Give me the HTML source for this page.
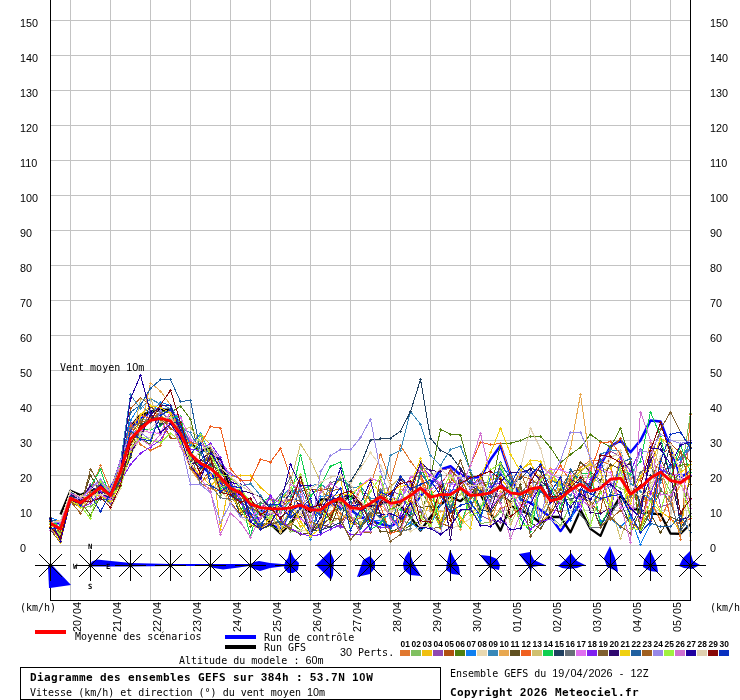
<!DOCTYPE html>
<html><head><meta charset="utf-8"><title>Diagramme des ensembles GEFS</title>
<style>html,body{margin:0;padding:0;background:#fff}svg{display:block}text{font-family:"DejaVu Sans Mono","Liberation Mono",monospace;font-size:10px;fill:#000}.b{font-weight:bold;font-size:11px;letter-spacing:.38px}.t{font-family:"Liberation Sans",sans-serif;font-size:8.4px;font-weight:bold}.c{font-size:7.2px;font-weight:bold}.d{font-family:"Liberation Sans",sans-serif;font-size:10.8px;letter-spacing:0}.bd{font-family:"Liberation Sans",sans-serif;font-size:11px;font-weight:bold;letter-spacing:.88px}</style></head><body>
<svg width="740" height="700" viewBox="0 0 740 700">
<rect width="740" height="700" fill="#fff"/>
<path d="M50 20.5H690M50 55.5H690M50 90.5H690M50 125.5H690M50 160.5H690M50 195.5H690M50 230.5H690M50 265.5H690M50 300.5H690M50 335.5H690M50 370.5H690M50 405.5H690M50 440.5H690M50 475.5H690M50 510.5H690M50 545.5H690M70.5 0V600M110.5 0V600M150.5 0V600M190.5 0V600M230.5 0V600M270.5 0V600M310.5 0V600M350.5 0V600M390.5 0V600M430.5 0V600M470.5 0V600M510.5 0V600M550.5 0V600M590.5 0V600M630.5 0V600M670.5 0V600" stroke="#c3c3c3" stroke-width="1" fill="none" shape-rendering="crispEdges"/>
<defs><marker id="m" markerWidth="3" markerHeight="3" refX="1.5" refY="1.5" markerUnits="userSpaceOnUse"><path d="M1 0h1v1h1v1h-1v1h-1v-1h-1v-1h1z" fill="context-stroke" shape-rendering="crispEdges"/></marker></defs>
<polyline points="50.5,522.9 60.5,523.6 70.5,502.0 80.5,498.8 90.5,496.4 100.5,488.3 110.5,487.7 120.5,470.8 130.5,429.5 140.5,419.0 150.5,412.0 160.5,408.5 170.5,412.0 180.5,429.5 190.5,455.5 200.5,465.3 210.5,473.9 220.5,483.8 230.5,495.1 240.5,493.9 250.5,504.8 260.5,525.0 270.5,524.0 280.5,529.6 290.5,511.1 300.5,504.1 310.5,506.8 320.5,513.2 330.5,504.0 340.5,506.9 350.5,509.7 360.5,517.0 370.5,520.5 380.5,524.0 390.5,526.5 400.5,520.5 410.5,510.0 420.5,496.0 430.5,485.5 440.5,469.4 450.5,466.2 460.5,475.0 470.5,477.8 480.5,477.1 490.5,459.6 500.5,445.6 510.5,475.0 520.5,499.5 530.5,503.0 540.5,510.0 550.5,517.0 560.5,531.0 570.5,517.0 580.5,503.0 590.5,485.5 600.5,465.2 610.5,446.3 620.5,440.4 630.5,452.2 640.5,440.4 650.5,420.4 660.5,421.5 670.5,447.4 680.5,477.1 690.5,471.5" fill="none" stroke="#0000ff" stroke-width="2.5" stroke-linejoin="round"/>
<polyline points="60.5,514.5 70.5,490.8 80.5,495.0 90.5,490.3 100.5,489.8 110.5,494.0 120.5,473.9 130.5,426.7 140.5,414.8 150.5,412.0 160.5,410.2 170.5,409.5 180.5,426.0 190.5,443.5 200.5,451.2 210.5,448.4 220.5,461.7 230.5,488.9 240.5,493.6 250.5,502.1 260.5,508.6 270.5,524.0 280.5,533.5 290.5,524.0 300.5,507.5 310.5,512.0 320.5,499.5 330.5,499.5 340.5,503.6 350.5,495.3 360.5,504.9 370.5,506.4 380.5,502.9 390.5,501.8 400.5,506.0 410.5,517.0 420.5,530.6 430.5,517.0 440.5,504.8 450.5,496.9 460.5,501.2 470.5,492.1 480.5,494.3 490.5,513.5 500.5,530.6 510.5,506.1 520.5,510.0 530.5,515.2 540.5,523.0 550.5,517.0 560.5,517.0 570.5,532.4 580.5,510.0 590.5,528.9 600.5,535.9 610.5,512.5 620.5,496.0 630.5,508.2 640.5,510.0 650.5,513.5 660.5,514.2 670.5,533.5 680.5,533.8 690.5,524.0" fill="none" stroke="#000" stroke-width="2.3" stroke-linejoin="round"/>
<g fill="none" stroke-width="1" shape-rendering="crispEdges">
<polyline points="50.5,524.3 60.5,531.5 70.5,500.3 80.5,504.8 90.5,489.5 100.5,465.9 110.5,490.0 120.5,464.8 130.5,424.8 140.5,444.6 150.5,450.5 160.5,445.6 170.5,414.5 180.5,425.1 190.5,465.9 200.5,484.0 210.5,488.6 220.5,491.5 230.5,489.3 240.5,498.0 250.5,501.4 260.5,515.9 270.5,508.9 280.5,506.6 290.5,517.1 300.5,482.1 310.5,495.3 320.5,488.1 330.5,502.1 340.5,513.9 350.5,520.8 360.5,517.8 370.5,485.5 380.5,454.0 390.5,480.6 400.5,445.6 410.5,461.0 420.5,475.0 430.5,509.6 440.5,497.3 450.5,491.4 460.5,521.3 470.5,510.2 480.5,482.1 490.5,522.9 500.5,508.0 510.5,505.3 520.5,516.5 530.5,487.8 540.5,487.1 550.5,515.2 560.5,494.2 570.5,478.0 580.5,467.4 590.5,460.3 600.5,461.0 610.5,464.9 620.5,508.1 630.5,488.6 640.5,502.1 650.5,500.3 660.5,520.6 670.5,496.0 680.5,539.4 690.5,414.5" stroke="#E07830" marker-start="url(#m)" marker-mid="url(#m)" marker-end="url(#m)"/>
<polyline points="50.5,530.4 60.5,526.9 70.5,496.5 80.5,507.8 90.5,506.5 100.5,498.9 110.5,503.6 120.5,488.0 130.5,443.6 140.5,419.6 150.5,419.6 160.5,418.5 170.5,420.2 180.5,422.0 190.5,443.5 200.5,454.8 210.5,462.7 220.5,495.1 230.5,487.1 240.5,490.4 250.5,502.4 260.5,528.6 270.5,524.7 280.5,519.2 290.5,531.1 300.5,531.1 310.5,515.5 320.5,532.1 330.5,500.2 340.5,497.3 350.5,517.7 360.5,516.3 370.5,504.3 380.5,506.4 390.5,498.7 400.5,520.7 410.5,523.3 420.5,489.7 430.5,507.7 440.5,527.6 450.5,501.9 460.5,479.6 470.5,508.1 480.5,523.6 490.5,521.9 500.5,511.8 510.5,519.4 520.5,486.0 530.5,520.5 540.5,482.3 550.5,515.7 560.5,525.7 570.5,505.1 580.5,477.7 590.5,477.5 600.5,482.6 610.5,482.7 620.5,488.5 630.5,492.8 640.5,504.1 650.5,491.0 660.5,471.7 670.5,492.3 680.5,478.2 690.5,413.0" stroke="#80C060" marker-start="url(#m)" marker-mid="url(#m)" marker-end="url(#m)"/>
<polyline points="50.5,521.1 60.5,528.9 70.5,498.0 80.5,499.4 90.5,494.6 100.5,484.7 110.5,489.0 120.5,485.6 130.5,456.4 140.5,433.7 150.5,418.4 160.5,415.3 170.5,422.8 180.5,428.3 190.5,446.9 200.5,433.7 210.5,444.8 220.5,529.2 230.5,476.8 240.5,475.7 250.5,475.7 260.5,487.2 270.5,496.0 280.5,531.1 290.5,507.9 300.5,526.3 310.5,522.6 320.5,503.5 330.5,489.8 340.5,478.9 350.5,523.8 360.5,523.4 370.5,520.1 380.5,495.9 390.5,491.5 400.5,532.9 410.5,497.6 420.5,523.4 430.5,500.6 440.5,528.3 450.5,512.3 460.5,480.4 470.5,495.2 480.5,493.8 490.5,479.4 500.5,477.9 510.5,490.7 520.5,470.2 530.5,463.6 540.5,479.6 550.5,468.4 560.5,495.0 570.5,475.5 580.5,481.9 590.5,487.2 600.5,470.7 610.5,468.3 620.5,456.5 630.5,521.9 640.5,530.4 650.5,489.1 660.5,511.6 670.5,518.3 680.5,531.0 690.5,469.8" stroke="#F0C010" marker-start="url(#m)" marker-mid="url(#m)" marker-end="url(#m)"/>
<polyline points="50.5,523.3 60.5,527.8 70.5,499.8 80.5,500.3 90.5,484.6 100.5,485.2 110.5,489.1 120.5,460.2 130.5,422.4 140.5,439.3 150.5,407.1 160.5,412.1 170.5,420.5 180.5,427.3 190.5,441.6 200.5,435.4 210.5,465.1 220.5,462.3 230.5,473.9 240.5,479.1 250.5,491.1 260.5,509.2 270.5,498.6 280.5,501.7 290.5,499.3 300.5,476.9 310.5,501.3 320.5,531.6 330.5,522.4 340.5,527.4 350.5,508.3 360.5,504.0 370.5,509.3 380.5,496.8 390.5,492.3 400.5,493.5 410.5,477.3 420.5,476.4 430.5,476.5 440.5,469.7 450.5,468.6 460.5,481.0 470.5,481.8 480.5,515.4 490.5,520.2 500.5,522.0 510.5,488.9 520.5,513.9 530.5,493.8 540.5,487.8 550.5,497.1 560.5,503.7 570.5,484.7 580.5,462.6 590.5,467.6 600.5,460.8 610.5,451.1 620.5,456.8 630.5,510.9 640.5,505.6 650.5,455.3 660.5,506.7 670.5,503.5 680.5,462.1 690.5,448.6" stroke="#9048B0" marker-start="url(#m)" marker-mid="url(#m)" marker-end="url(#m)"/>
<polyline points="50.5,521.9 60.5,536.0 70.5,501.4 80.5,506.7 90.5,492.5 100.5,488.7 110.5,500.2 120.5,481.7 130.5,408.5 140.5,398.0 150.5,405.0 160.5,419.4 170.5,437.9 180.5,439.0 190.5,461.9 200.5,483.8 210.5,468.9 220.5,479.1 230.5,501.9 240.5,514.8 250.5,513.4 260.5,518.0 270.5,505.3 280.5,499.6 290.5,490.9 300.5,491.8 310.5,489.0 320.5,490.3 330.5,488.4 340.5,524.0 350.5,506.3 360.5,490.5 370.5,500.0 380.5,505.1 390.5,484.6 400.5,521.0 410.5,495.6 420.5,462.4 430.5,496.1 440.5,484.9 450.5,470.2 460.5,479.3 470.5,485.9 480.5,477.0 490.5,496.1 500.5,487.4 510.5,487.5 520.5,475.9 530.5,479.2 540.5,485.1 550.5,510.7 560.5,511.2 570.5,479.5 580.5,477.1 590.5,503.5 600.5,512.6 610.5,448.7 620.5,438.9 630.5,459.8 640.5,527.5 650.5,479.7 660.5,459.2 670.5,443.7 680.5,452.9 690.5,461.3" stroke="#B05010" marker-start="url(#m)" marker-mid="url(#m)" marker-end="url(#m)"/>
<polyline points="50.5,521.8 60.5,528.5 70.5,500.5 80.5,501.7 90.5,515.2 100.5,496.4 110.5,503.1 120.5,480.7 130.5,447.0 140.5,439.0 150.5,444.1 160.5,411.3 170.5,412.8 180.5,406.0 190.5,419.0 200.5,460.7 210.5,460.2 220.5,461.6 230.5,479.4 240.5,508.6 250.5,516.3 260.5,529.4 270.5,525.4 280.5,530.9 290.5,521.6 300.5,530.5 310.5,531.1 320.5,522.5 330.5,514.4 340.5,503.3 350.5,516.4 360.5,526.1 370.5,510.3 380.5,513.2 390.5,530.2 400.5,531.6 410.5,525.3 420.5,520.8 430.5,477.1 440.5,429.5 450.5,434.1 460.5,435.1 470.5,472.2 480.5,516.8 490.5,491.7 500.5,443.5 510.5,443.1 520.5,440.7 530.5,436.1 540.5,436.1 550.5,447.4 560.5,462.8 570.5,454.4 580.5,447.4 590.5,434.4 600.5,441.8 610.5,447.0 620.5,428.5 630.5,461.0 640.5,532.1 650.5,511.4 660.5,490.3 670.5,496.6 680.5,465.2 690.5,464.0" stroke="#508010" marker-start="url(#m)" marker-mid="url(#m)" marker-end="url(#m)"/>
<polyline points="50.5,517.9 60.5,521.3 70.5,491.6 80.5,503.1 90.5,495.6 100.5,482.9 110.5,495.1 120.5,463.5 130.5,420.3 140.5,404.8 150.5,413.7 160.5,402.1 170.5,405.5 180.5,423.7 190.5,445.8 200.5,433.7 210.5,453.8 220.5,462.9 230.5,475.8 240.5,488.8 250.5,517.6 260.5,511.9 270.5,507.6 280.5,497.3 290.5,488.3 300.5,497.1 310.5,539.8 320.5,496.4 330.5,495.5 340.5,496.2 350.5,510.9 360.5,502.2 370.5,520.1 380.5,520.1 390.5,514.2 400.5,530.0 410.5,522.5 420.5,529.9 430.5,525.7 440.5,504.1 450.5,490.9 460.5,487.8 470.5,501.7 480.5,520.3 490.5,475.7 500.5,470.1 510.5,472.3 520.5,496.3 530.5,494.1 540.5,524.3 550.5,500.8 560.5,479.1 570.5,520.0 580.5,498.1 590.5,483.2 600.5,521.2 610.5,519.0 620.5,527.2 630.5,517.0 640.5,544.3 650.5,524.0 660.5,475.0 670.5,464.8 680.5,459.2 690.5,443.3" stroke="#1080F0" marker-start="url(#m)" marker-mid="url(#m)" marker-end="url(#m)"/>
<polyline points="50.5,526.0 60.5,540.5 70.5,501.6 80.5,506.8 90.5,501.3 100.5,488.9 110.5,509.3 120.5,488.3 130.5,454.4 140.5,439.1 150.5,437.6 160.5,431.1 170.5,434.8 180.5,436.1 190.5,454.3 200.5,469.1 210.5,483.9 220.5,489.8 230.5,502.9 240.5,516.8 250.5,524.8 260.5,529.2 270.5,522.4 280.5,523.8 290.5,530.5 300.5,530.5 310.5,531.4 320.5,521.0 330.5,506.0 340.5,510.1 350.5,483.8 360.5,468.4 370.5,452.9 380.5,465.6 390.5,485.5 400.5,525.8 410.5,531.2 420.5,526.6 430.5,526.4 440.5,533.2 450.5,528.7 460.5,524.9 470.5,518.3 480.5,504.0 490.5,513.7 500.5,466.0 510.5,492.5 520.5,481.0 530.5,487.4 540.5,474.8 550.5,518.6 560.5,527.2 570.5,515.3 580.5,489.8 590.5,461.6 600.5,470.4 610.5,456.6 620.5,454.5 630.5,470.3 640.5,472.8 650.5,486.7 660.5,471.3 670.5,516.7 680.5,478.6 690.5,518.4" stroke="#E8D8B0" marker-start="url(#m)" marker-mid="url(#m)" marker-end="url(#m)"/>
<polyline points="50.5,521.1 60.5,525.4 70.5,491.7 80.5,498.2 90.5,494.2 100.5,482.9 110.5,490.5 120.5,461.3 130.5,394.9 140.5,408.5 150.5,398.9 160.5,404.1 170.5,408.6 180.5,427.3 190.5,432.8 200.5,452.5 210.5,450.4 220.5,471.5 230.5,488.1 240.5,486.7 250.5,483.7 260.5,495.6 270.5,508.0 280.5,497.4 290.5,496.8 300.5,489.7 310.5,485.9 320.5,483.6 330.5,491.8 340.5,475.4 350.5,487.6 360.5,486.7 370.5,498.2 380.5,499.5 390.5,455.1 400.5,450.5 410.5,411.6 420.5,424.2 430.5,455.8 440.5,465.2 450.5,449.4 460.5,446.3 470.5,470.8 480.5,494.2 490.5,487.3 500.5,499.4 510.5,490.6 520.5,516.1 530.5,493.0 540.5,477.4 550.5,479.9 560.5,485.2 570.5,495.9 580.5,478.1 590.5,489.4 600.5,454.3 610.5,449.9 620.5,450.6 630.5,483.5 640.5,491.3 650.5,499.6 660.5,482.1 670.5,467.0 680.5,457.4 690.5,448.2" stroke="#3888B8" marker-start="url(#m)" marker-mid="url(#m)" marker-end="url(#m)"/>
<polyline points="50.5,520.8 60.5,520.3 70.5,499.8 80.5,506.1 90.5,498.4 100.5,489.0 110.5,495.2 120.5,475.2 130.5,438.5 140.5,429.5 150.5,383.0 160.5,391.0 170.5,405.0 180.5,443.3 190.5,468.9 200.5,483.3 210.5,474.5 220.5,489.9 230.5,488.2 240.5,491.4 250.5,503.5 260.5,506.1 270.5,512.5 280.5,530.8 290.5,524.6 300.5,513.5 310.5,526.6 320.5,523.6 330.5,502.3 340.5,519.9 350.5,512.0 360.5,490.0 370.5,508.7 380.5,504.2 390.5,515.9 400.5,489.3 410.5,492.0 420.5,478.2 430.5,511.4 440.5,511.7 450.5,511.2 460.5,529.2 470.5,495.6 480.5,487.6 490.5,524.6 500.5,491.6 510.5,504.3 520.5,494.0 530.5,486.6 540.5,522.5 550.5,513.6 560.5,478.5 570.5,448.8 580.5,394.5 590.5,465.2 600.5,527.7 610.5,504.0 620.5,453.9 630.5,478.3 640.5,480.2 650.5,442.8 660.5,467.3 670.5,504.2 680.5,484.7 690.5,469.7" stroke="#E8A850" marker-start="url(#m)" marker-mid="url(#m)" marker-end="url(#m)"/>
<polyline points="50.5,527.4 60.5,531.9 70.5,501.4 80.5,506.7 90.5,475.0 100.5,492.5 110.5,498.9 120.5,478.2 130.5,449.9 140.5,423.5 150.5,406.0 160.5,418.7 170.5,416.5 180.5,441.3 190.5,460.0 200.5,460.5 210.5,451.2 220.5,477.6 230.5,491.6 240.5,501.4 250.5,526.0 260.5,524.4 270.5,523.4 280.5,521.9 290.5,529.4 300.5,534.3 310.5,533.3 320.5,524.9 330.5,526.6 340.5,502.6 350.5,521.1 360.5,528.5 370.5,515.3 380.5,531.5 390.5,532.3 400.5,527.0 410.5,501.3 420.5,507.3 430.5,506.7 440.5,523.6 450.5,512.8 460.5,478.9 470.5,511.2 480.5,474.0 490.5,496.9 500.5,495.7 510.5,501.1 520.5,484.6 530.5,522.5 540.5,528.8 550.5,512.8 560.5,498.8 570.5,485.8 580.5,462.0 590.5,472.2 600.5,480.3 610.5,464.7 620.5,468.8 630.5,462.7 640.5,513.2 650.5,513.6 660.5,532.7 670.5,517.0 680.5,521.3 690.5,476.0" stroke="#605020" marker-start="url(#m)" marker-mid="url(#m)" marker-end="url(#m)"/>
<polyline points="50.5,520.7 60.5,530.1 70.5,500.2 80.5,506.3 90.5,494.7 100.5,486.9 110.5,495.4 120.5,472.9 130.5,426.8 140.5,415.3 150.5,418.4 160.5,412.0 170.5,419.7 180.5,443.9 190.5,442.6 200.5,444.6 210.5,426.7 220.5,428.1 230.5,468.7 240.5,480.2 250.5,480.9 260.5,459.2 270.5,462.1 280.5,448.4 290.5,476.8 300.5,499.5 310.5,510.4 320.5,512.4 330.5,513.4 340.5,500.1 350.5,510.2 360.5,504.1 370.5,510.9 380.5,506.2 390.5,533.4 400.5,529.9 410.5,502.9 420.5,474.0 430.5,499.3 440.5,503.9 450.5,477.9 460.5,489.0 470.5,465.2 480.5,442.1 490.5,444.6 500.5,443.5 510.5,475.0 520.5,492.9 530.5,492.5 540.5,487.6 550.5,481.2 560.5,465.2 570.5,482.3 580.5,493.7 590.5,471.5 600.5,442.8 610.5,441.8 620.5,454.0 630.5,497.8 640.5,478.3 650.5,520.8 660.5,471.6 670.5,519.4 680.5,523.9 690.5,518.7" stroke="#F06020" marker-start="url(#m)" marker-mid="url(#m)" marker-end="url(#m)"/>
<polyline points="50.5,522.8 60.5,530.0 70.5,495.7 80.5,496.7 90.5,488.7 100.5,481.6 110.5,489.3 120.5,463.4 130.5,445.7 140.5,399.6 150.5,398.8 160.5,422.0 170.5,420.6 180.5,428.6 190.5,427.8 200.5,441.3 210.5,461.6 220.5,485.7 230.5,488.3 240.5,486.5 250.5,514.4 260.5,523.9 270.5,515.5 280.5,532.0 290.5,482.0 300.5,444.2 310.5,459.6 320.5,482.0 330.5,523.8 340.5,516.0 350.5,515.9 360.5,522.8 370.5,511.3 380.5,490.0 390.5,487.1 400.5,476.6 410.5,493.3 420.5,496.5 430.5,528.1 440.5,485.3 450.5,505.2 460.5,494.1 470.5,491.9 480.5,515.7 490.5,491.0 500.5,484.2 510.5,524.8 520.5,502.6 530.5,469.8 540.5,516.9 550.5,494.0 560.5,488.8 570.5,478.0 580.5,471.8 590.5,462.0 600.5,472.5 610.5,506.5 620.5,538.4 630.5,510.0 640.5,496.0 650.5,482.5 660.5,438.5 670.5,450.9 680.5,469.6 690.5,504.6" stroke="#D0C070" marker-start="url(#m)" marker-mid="url(#m)" marker-end="url(#m)"/>
<polyline points="50.5,521.5 60.5,525.7 70.5,494.8 80.5,501.8 90.5,486.5 100.5,469.8 110.5,497.8 120.5,466.8 130.5,433.4 140.5,429.1 150.5,429.9 160.5,425.8 170.5,417.6 180.5,416.2 190.5,463.9 200.5,463.0 210.5,466.1 220.5,488.5 230.5,485.5 240.5,499.5 250.5,535.5 260.5,503.0 270.5,496.6 280.5,512.7 290.5,499.5 300.5,455.1 310.5,496.0 320.5,485.5 330.5,466.2 340.5,462.1 350.5,499.5 360.5,483.8 370.5,529.4 380.5,523.7 390.5,508.3 400.5,509.1 410.5,517.4 420.5,467.4 430.5,488.9 440.5,526.4 450.5,494.4 460.5,526.0 470.5,494.5 480.5,507.5 490.5,495.0 500.5,469.5 510.5,483.7 520.5,518.8 530.5,531.9 540.5,485.3 550.5,486.0 560.5,508.6 570.5,481.0 580.5,474.1 590.5,472.7 600.5,524.6 610.5,507.3 620.5,470.0 630.5,474.0 640.5,461.0 650.5,412.0 660.5,436.5 670.5,477.8 680.5,444.7 690.5,472.3" stroke="#10D050" marker-start="url(#m)" marker-mid="url(#m)" marker-end="url(#m)"/>
<polyline points="50.5,521.0 60.5,529.9 70.5,494.0 80.5,504.0 90.5,494.8 100.5,491.4 110.5,495.9 120.5,479.3 130.5,457.1 140.5,426.1 150.5,416.5 160.5,424.2 170.5,420.6 180.5,424.7 190.5,460.0 200.5,468.4 210.5,464.2 220.5,470.7 230.5,488.4 240.5,516.1 250.5,504.5 260.5,506.7 270.5,509.8 280.5,517.0 290.5,510.1 300.5,517.7 310.5,530.9 320.5,530.1 330.5,527.0 340.5,522.6 350.5,481.6 360.5,465.6 370.5,440.0 380.5,438.9 390.5,438.2 400.5,431.2 410.5,411.6 420.5,379.5 430.5,438.2 440.5,450.1 450.5,455.1 460.5,468.4 470.5,482.0 480.5,509.8 490.5,511.9 500.5,494.9 510.5,485.3 520.5,478.2 530.5,468.4 540.5,471.1 550.5,498.5 560.5,498.9 570.5,499.1 580.5,496.3 590.5,502.8 600.5,525.6 610.5,509.4 620.5,501.1 630.5,525.5 640.5,508.5 650.5,475.4 660.5,479.1 670.5,444.5 680.5,528.0 690.5,513.5" stroke="#204060" marker-start="url(#m)" marker-mid="url(#m)" marker-end="url(#m)"/>
<polyline points="50.5,517.6 60.5,539.6 70.5,498.8 80.5,501.0 90.5,494.6 100.5,482.8 110.5,503.3 120.5,470.0 130.5,428.9 140.5,420.9 150.5,422.6 160.5,411.9 170.5,420.4 180.5,430.1 190.5,455.0 200.5,483.8 210.5,485.5 220.5,497.8 230.5,499.5 240.5,501.5 250.5,508.1 260.5,502.7 270.5,505.5 280.5,494.6 290.5,477.7 300.5,500.9 310.5,532.6 320.5,509.0 330.5,482.6 340.5,479.8 350.5,487.6 360.5,508.0 370.5,516.1 380.5,489.2 390.5,515.5 400.5,531.8 410.5,528.8 420.5,466.6 430.5,470.6 440.5,487.9 450.5,506.5 460.5,487.7 470.5,510.8 480.5,480.8 490.5,483.9 500.5,502.6 510.5,476.9 520.5,493.2 530.5,482.3 540.5,482.8 550.5,501.4 560.5,489.6 570.5,499.3 580.5,514.8 590.5,527.0 600.5,527.7 610.5,514.5 620.5,500.6 630.5,496.9 640.5,472.1 650.5,465.8 660.5,488.6 670.5,503.0 680.5,532.0 690.5,513.3" stroke="#687078" marker-start="url(#m)" marker-mid="url(#m)" marker-end="url(#m)"/>
<polyline points="50.5,522.5 60.5,528.7 70.5,494.0 80.5,501.0 90.5,488.7 100.5,480.8 110.5,492.5 120.5,461.3 130.5,434.9 140.5,429.7 150.5,432.8 160.5,433.2 170.5,411.1 180.5,417.1 190.5,439.7 200.5,444.7 210.5,447.4 220.5,461.4 230.5,474.7 240.5,501.3 250.5,517.7 260.5,508.2 270.5,496.6 280.5,502.9 290.5,517.8 300.5,518.5 310.5,526.5 320.5,528.7 330.5,492.2 340.5,505.4 350.5,511.2 360.5,485.2 370.5,478.3 380.5,481.7 390.5,506.6 400.5,499.0 410.5,477.8 420.5,470.3 430.5,474.5 440.5,483.7 450.5,483.8 460.5,487.4 470.5,492.2 480.5,476.0 490.5,509.2 500.5,494.3 510.5,491.1 520.5,505.6 530.5,503.4 540.5,477.8 550.5,469.8 560.5,469.9 570.5,473.7 580.5,505.0 590.5,464.7 600.5,470.6 610.5,472.4 620.5,507.8 630.5,505.9 640.5,520.9 650.5,494.4 660.5,465.4 670.5,475.9 680.5,473.3 690.5,499.5" stroke="#E070F0" marker-start="url(#m)" marker-mid="url(#m)" marker-end="url(#m)"/>
<polyline points="50.5,530.4 60.5,537.1 70.5,500.9 80.5,507.5 90.5,503.4 100.5,491.2 110.5,502.9 120.5,481.7 130.5,464.5 140.5,453.3 150.5,447.0 160.5,440.0 170.5,423.7 180.5,436.9 190.5,449.4 200.5,450.5 210.5,443.5 220.5,457.9 230.5,482.0 240.5,501.6 250.5,520.1 260.5,517.5 270.5,495.3 280.5,519.7 290.5,528.5 300.5,533.6 310.5,536.2 320.5,534.5 330.5,529.1 340.5,525.0 350.5,534.2 360.5,534.3 370.5,523.9 380.5,527.1 390.5,527.3 400.5,515.0 410.5,487.5 420.5,464.5 430.5,476.2 440.5,488.2 450.5,493.9 460.5,473.1 470.5,478.5 480.5,493.2 490.5,486.9 500.5,482.6 510.5,494.1 520.5,511.4 530.5,529.4 540.5,521.8 550.5,518.8 560.5,500.6 570.5,486.1 580.5,509.4 590.5,479.2 600.5,467.6 610.5,514.3 620.5,457.2 630.5,471.3 640.5,449.3 650.5,493.2 660.5,469.5 670.5,474.5 680.5,480.5 690.5,475.6" stroke="#8020F0" marker-start="url(#m)" marker-mid="url(#m)" marker-end="url(#m)"/>
<polyline points="50.5,530.2 60.5,542.5 70.5,501.5 80.5,507.6 90.5,469.1 100.5,485.5 110.5,498.5 120.5,483.7 130.5,453.8 140.5,428.6 150.5,416.1 160.5,418.5 170.5,428.4 180.5,425.4 190.5,459.8 200.5,462.6 210.5,457.4 220.5,480.2 230.5,485.6 240.5,512.7 250.5,507.3 260.5,513.4 270.5,524.8 280.5,522.1 290.5,528.6 300.5,505.7 310.5,528.1 320.5,526.9 330.5,517.4 340.5,519.6 350.5,539.4 360.5,528.6 370.5,513.0 380.5,513.4 390.5,541.1 400.5,534.5 410.5,516.9 420.5,511.8 430.5,528.2 440.5,527.8 450.5,482.0 460.5,460.3 470.5,489.0 480.5,490.6 490.5,500.5 500.5,464.1 510.5,488.6 520.5,487.0 530.5,536.2 540.5,523.7 550.5,502.1 560.5,489.2 570.5,471.5 580.5,470.1 590.5,502.8 600.5,527.1 610.5,517.2 620.5,526.3 630.5,533.2 640.5,510.3 650.5,457.5 660.5,429.5 670.5,412.0 680.5,432.0 690.5,447.0" stroke="#806030" marker-start="url(#m)" marker-mid="url(#m)" marker-end="url(#m)"/>
<polyline points="50.5,523.2 60.5,539.2 70.5,494.1 80.5,500.2 90.5,486.1 100.5,493.4 110.5,498.2 120.5,471.4 130.5,453.1 140.5,437.2 150.5,415.0 160.5,406.0 170.5,405.7 180.5,430.2 190.5,464.7 200.5,460.2 210.5,452.4 220.5,467.8 230.5,494.5 240.5,490.8 250.5,492.7 260.5,497.1 270.5,508.7 280.5,506.4 290.5,492.8 300.5,507.2 310.5,533.3 320.5,517.7 330.5,499.6 340.5,497.3 350.5,494.7 360.5,511.0 370.5,505.8 380.5,504.9 390.5,499.0 400.5,479.3 410.5,489.5 420.5,462.7 430.5,470.8 440.5,471.3 450.5,539.4 460.5,469.0 470.5,485.7 480.5,491.0 490.5,509.6 500.5,481.9 510.5,472.6 520.5,472.2 530.5,469.4 540.5,480.1 550.5,491.0 560.5,517.9 570.5,479.4 580.5,483.7 590.5,512.3 600.5,513.9 610.5,507.1 620.5,466.8 630.5,464.2 640.5,505.7 650.5,460.4 660.5,443.3 670.5,476.8 680.5,520.0 690.5,516.0" stroke="#300870" marker-start="url(#m)" marker-mid="url(#m)" marker-end="url(#m)"/>
<polyline points="50.5,526.7 60.5,542.4 70.5,499.8 80.5,507.5 90.5,494.6 100.5,496.0 110.5,501.5 120.5,484.1 130.5,451.6 140.5,414.8 150.5,405.9 160.5,407.7 170.5,413.1 180.5,443.7 190.5,464.0 200.5,475.6 210.5,485.5 220.5,477.5 230.5,494.6 240.5,510.2 250.5,524.2 260.5,529.3 270.5,517.6 280.5,500.6 290.5,502.0 300.5,521.2 310.5,536.1 320.5,528.5 330.5,496.9 340.5,494.5 350.5,494.5 360.5,486.4 370.5,479.5 380.5,494.2 390.5,491.1 400.5,486.2 410.5,485.5 420.5,458.9 430.5,485.5 440.5,520.8 450.5,495.6 460.5,517.6 470.5,528.9 480.5,478.5 490.5,452.9 500.5,428.1 510.5,454.0 520.5,471.5 530.5,460.5 540.5,461.2 550.5,479.2 560.5,482.5 570.5,487.1 580.5,469.8 590.5,464.6 600.5,471.1 610.5,504.3 620.5,471.4 630.5,503.5 640.5,476.3 650.5,467.5 660.5,438.1 670.5,444.2 680.5,472.8 690.5,464.3" stroke="#F0D010" marker-start="url(#m)" marker-mid="url(#m)" marker-end="url(#m)"/>
<polyline points="50.5,519.7 60.5,522.2 70.5,491.9 80.5,498.6 90.5,501.4 100.5,499.4 110.5,499.5 120.5,471.8 130.5,412.1 140.5,405.0 150.5,388.5 160.5,379.5 170.5,379.5 180.5,401.5 190.5,400.5 200.5,452.2 210.5,478.5 220.5,477.2 230.5,496.5 240.5,499.1 250.5,519.4 260.5,524.0 270.5,512.8 280.5,524.2 290.5,515.4 300.5,486.7 310.5,508.1 320.5,515.5 330.5,499.7 340.5,509.4 350.5,501.2 360.5,528.0 370.5,509.3 380.5,517.8 390.5,528.4 400.5,491.3 410.5,514.3 420.5,472.9 430.5,485.7 440.5,474.7 450.5,509.8 460.5,482.0 470.5,480.9 480.5,492.4 490.5,496.0 500.5,462.7 510.5,478.8 520.5,498.5 530.5,514.2 540.5,491.4 550.5,499.7 560.5,498.1 570.5,469.8 580.5,481.9 590.5,484.1 600.5,459.7 610.5,494.0 620.5,463.3 630.5,458.6 640.5,508.1 650.5,523.1 660.5,526.8 670.5,526.9 680.5,515.1 690.5,532.6" stroke="#2060A0" marker-start="url(#m)" marker-mid="url(#m)" marker-end="url(#m)"/>
<polyline points="50.5,528.0 60.5,532.3 70.5,501.4 80.5,513.1 90.5,497.5 100.5,488.0 110.5,494.7 120.5,465.3 130.5,433.9 140.5,421.6 150.5,420.4 160.5,415.3 170.5,428.5 180.5,433.4 190.5,468.7 200.5,475.6 210.5,447.5 220.5,465.4 230.5,492.2 240.5,492.7 250.5,516.1 260.5,527.2 270.5,522.1 280.5,507.5 290.5,499.1 300.5,501.2 310.5,521.2 320.5,527.3 330.5,490.5 340.5,489.4 350.5,515.9 360.5,532.9 370.5,532.7 380.5,477.2 390.5,509.6 400.5,503.5 410.5,493.1 420.5,487.2 430.5,499.6 440.5,523.6 450.5,526.4 460.5,476.4 470.5,498.3 480.5,482.3 490.5,514.9 500.5,497.7 510.5,488.7 520.5,472.0 530.5,496.6 540.5,476.1 550.5,482.8 560.5,499.9 570.5,479.7 580.5,492.2 590.5,507.7 600.5,491.1 610.5,519.2 620.5,510.2 630.5,523.4 640.5,528.2 650.5,510.6 660.5,459.2 670.5,478.8 680.5,451.6 690.5,484.6" stroke="#A06020" marker-start="url(#m)" marker-mid="url(#m)" marker-end="url(#m)"/>
<polyline points="50.5,522.4 60.5,522.7 70.5,497.8 80.5,498.7 90.5,488.6 100.5,479.5 110.5,491.8 120.5,460.7 130.5,431.2 140.5,432.6 150.5,439.9 160.5,410.8 170.5,420.7 180.5,441.0 190.5,484.4 200.5,484.8 210.5,492.5 220.5,522.2 230.5,503.0 240.5,516.6 250.5,519.9 260.5,512.5 270.5,513.8 280.5,508.7 290.5,502.3 300.5,494.1 310.5,532.5 320.5,471.9 330.5,455.8 340.5,449.4 350.5,449.8 360.5,437.9 370.5,419.0 380.5,471.9 390.5,496.0 400.5,500.7 410.5,482.4 420.5,509.3 430.5,526.2 440.5,534.5 450.5,484.2 460.5,477.9 470.5,488.4 480.5,481.7 490.5,503.8 500.5,471.6 510.5,490.3 520.5,472.9 530.5,472.7 540.5,517.7 550.5,478.5 560.5,460.3 570.5,432.0 580.5,432.0 590.5,458.2 600.5,486.9 610.5,486.2 620.5,472.3 630.5,481.8 640.5,450.9 650.5,452.6 660.5,434.0 670.5,440.2 680.5,443.6 690.5,440.6" stroke="#9888E8" marker-start="url(#m)" marker-mid="url(#m)" marker-end="url(#m)"/>
<polyline points="50.5,523.4 60.5,535.4 70.5,499.0 80.5,505.6 90.5,518.8 100.5,481.1 110.5,495.4 120.5,486.9 130.5,449.7 140.5,436.5 150.5,440.0 160.5,442.8 170.5,433.0 180.5,441.4 190.5,458.5 200.5,434.9 210.5,454.5 220.5,474.4 230.5,476.5 240.5,489.1 250.5,501.8 260.5,513.5 270.5,518.5 280.5,499.7 290.5,488.1 300.5,474.7 310.5,504.9 320.5,509.1 330.5,521.1 340.5,495.0 350.5,528.0 360.5,512.6 370.5,491.4 380.5,476.9 390.5,510.8 400.5,491.5 410.5,508.3 420.5,516.8 430.5,526.0 440.5,493.9 450.5,474.6 460.5,489.6 470.5,515.2 480.5,512.2 490.5,469.9 500.5,463.8 510.5,488.9 520.5,525.6 530.5,525.1 540.5,480.0 550.5,471.0 560.5,486.3 570.5,502.0 580.5,500.8 590.5,525.5 600.5,492.7 610.5,507.8 620.5,466.5 630.5,528.1 640.5,530.3 650.5,501.3 660.5,511.6 670.5,475.1 680.5,481.3 690.5,516.0" stroke="#A0F040" marker-start="url(#m)" marker-mid="url(#m)" marker-end="url(#m)"/>
<polyline points="50.5,530.1 60.5,522.7 70.5,493.2 80.5,497.8 90.5,502.0 100.5,495.6 110.5,499.2 120.5,465.4 130.5,449.5 140.5,438.9 150.5,445.7 160.5,434.3 170.5,420.7 180.5,446.5 190.5,465.4 200.5,478.5 210.5,491.8 220.5,534.5 230.5,513.1 240.5,522.2 250.5,537.3 260.5,517.0 270.5,513.6 280.5,513.1 290.5,484.4 300.5,488.4 310.5,520.7 320.5,492.1 330.5,483.4 340.5,489.5 350.5,514.3 360.5,532.4 370.5,531.4 380.5,496.5 390.5,518.9 400.5,529.4 410.5,509.3 420.5,488.3 430.5,489.7 440.5,482.3 450.5,472.3 460.5,488.6 470.5,465.6 480.5,433.4 490.5,475.0 500.5,503.0 510.5,538.4 520.5,513.5 530.5,476.8 540.5,466.5 550.5,473.6 560.5,479.0 570.5,490.3 580.5,498.6 590.5,507.6 600.5,499.6 610.5,482.1 620.5,503.0 630.5,542.9 640.5,412.0 650.5,440.0 660.5,494.7 670.5,495.1 680.5,480.9 690.5,508.0" stroke="#D070D0" marker-start="url(#m)" marker-mid="url(#m)" marker-end="url(#m)"/>
<polyline points="50.5,518.3 60.5,541.1 70.5,500.2 80.5,503.9 90.5,495.6 100.5,485.1 110.5,494.6 120.5,470.6 130.5,398.7 140.5,375.2 150.5,412.0 160.5,432.5 170.5,423.7 180.5,438.2 190.5,465.9 200.5,478.8 210.5,453.5 220.5,459.7 230.5,482.5 240.5,484.2 250.5,521.7 260.5,529.3 270.5,524.4 280.5,503.0 290.5,464.5 300.5,485.5 310.5,485.5 320.5,509.2 330.5,496.0 340.5,468.4 350.5,506.5 360.5,503.8 370.5,480.8 380.5,515.1 390.5,513.7 400.5,518.1 410.5,503.3 420.5,527.0 430.5,528.5 440.5,534.5 450.5,527.1 460.5,510.0 470.5,508.9 480.5,525.4 490.5,526.2 500.5,518.9 510.5,529.4 520.5,528.7 530.5,503.5 540.5,485.4 550.5,502.9 560.5,493.7 570.5,507.3 580.5,494.0 590.5,499.6 600.5,484.1 610.5,484.1 620.5,492.8 630.5,508.3 640.5,517.5 650.5,447.8 660.5,449.3 670.5,464.0 680.5,445.3 690.5,442.0" stroke="#2000A0" marker-start="url(#m)" marker-mid="url(#m)" marker-end="url(#m)"/>
<polyline points="50.5,522.5 60.5,520.9 70.5,491.1 80.5,496.8 90.5,496.2 100.5,494.1 110.5,495.5 120.5,467.5 130.5,446.4 140.5,433.9 150.5,428.6 160.5,418.3 170.5,417.4 180.5,433.3 190.5,465.2 200.5,449.5 210.5,445.7 220.5,467.4 230.5,476.5 240.5,485.6 250.5,491.5 260.5,498.1 270.5,512.9 280.5,506.0 290.5,489.9 300.5,513.2 310.5,488.6 320.5,482.6 330.5,477.1 340.5,475.1 350.5,483.8 360.5,501.1 370.5,510.7 380.5,519.0 390.5,511.1 400.5,506.8 410.5,490.3 420.5,525.7 430.5,477.5 440.5,468.5 450.5,477.9 460.5,475.8 470.5,485.4 480.5,485.9 490.5,489.1 500.5,485.3 510.5,510.3 520.5,468.0 530.5,428.5 540.5,448.4 550.5,485.5 560.5,501.6 570.5,489.4 580.5,474.5 590.5,506.8 600.5,484.3 610.5,458.5 620.5,450.6 630.5,488.5 640.5,497.2 650.5,489.0 660.5,456.7 670.5,444.5 680.5,475.0 690.5,540.5" stroke="#E0D0B0" marker-start="url(#m)" marker-mid="url(#m)" marker-end="url(#m)"/>
<polyline points="50.5,527.2 60.5,537.4 70.5,499.4 80.5,501.5 90.5,501.7 100.5,497.9 110.5,507.2 120.5,485.5 130.5,444.3 140.5,426.5 150.5,420.3 160.5,405.0 170.5,390.3 180.5,422.5 190.5,452.9 200.5,473.6 210.5,458.4 220.5,492.5 230.5,494.9 240.5,502.3 250.5,498.2 260.5,514.8 270.5,507.6 280.5,518.9 290.5,504.1 300.5,477.7 310.5,507.8 320.5,504.9 330.5,519.3 340.5,494.1 350.5,491.0 360.5,503.5 370.5,523.1 380.5,502.1 390.5,493.0 400.5,483.5 410.5,481.2 420.5,520.8 430.5,522.0 440.5,486.7 450.5,520.2 460.5,483.5 470.5,477.6 480.5,475.0 490.5,471.1 500.5,479.2 510.5,516.6 520.5,508.6 530.5,482.0 540.5,465.6 550.5,496.0 560.5,497.4 570.5,487.4 580.5,477.6 590.5,487.8 600.5,455.0 610.5,456.9 620.5,462.8 630.5,493.1 640.5,485.5 650.5,450.5 660.5,422.9 670.5,454.0 680.5,513.3 690.5,498.7" stroke="#880808" marker-start="url(#m)" marker-mid="url(#m)" marker-end="url(#m)"/>
<polyline points="50.5,528.8 60.5,527.9 70.5,496.4 80.5,505.4 90.5,495.6 100.5,511.4 110.5,492.8 120.5,471.0 130.5,431.0 140.5,439.4 150.5,440.5 160.5,415.5 170.5,409.4 180.5,426.0 190.5,453.9 200.5,443.4 210.5,485.1 220.5,491.4 230.5,485.8 240.5,487.8 250.5,513.9 260.5,528.0 270.5,504.2 280.5,505.1 290.5,517.8 300.5,508.8 310.5,498.6 320.5,532.8 330.5,500.7 340.5,488.2 350.5,530.1 360.5,508.4 370.5,529.8 380.5,492.1 390.5,496.5 400.5,476.0 410.5,489.3 420.5,484.5 430.5,480.0 440.5,495.5 450.5,511.8 460.5,505.3 470.5,502.6 480.5,515.8 490.5,490.0 500.5,474.4 510.5,484.2 520.5,466.8 530.5,475.2 540.5,464.5 550.5,492.6 560.5,477.2 570.5,518.3 580.5,489.1 590.5,493.9 600.5,498.8 610.5,495.9 620.5,494.5 630.5,514.5 640.5,532.5 650.5,521.8 660.5,461.0 670.5,434.4 680.5,432.0 690.5,448.8" stroke="#0830C0" marker-start="url(#m)" marker-mid="url(#m)" marker-end="url(#m)"/>
</g>
<polyline points="50.5,523.3 60.5,528.9 70.5,498.1 80.5,503.0 90.5,495.3 100.5,487.2 110.5,495.6 120.5,471.5 130.5,438.9 140.5,428.8 150.5,420.4 160.5,418.3 170.5,420.8 180.5,433.7 190.5,454.0 200.5,463.4 210.5,468.4 220.5,477.4 230.5,488.3 240.5,492.9 250.5,504.1 260.5,507.6 270.5,508.6 280.5,508.9 290.5,507.9 300.5,505.1 310.5,510.0 320.5,509.6 330.5,502.3 340.5,498.4 350.5,507.6 360.5,508.9 370.5,503.4 380.5,496.7 390.5,503.4 400.5,501.6 410.5,495.6 420.5,487.9 430.5,497.4 440.5,494.6 450.5,494.6 460.5,487.9 470.5,495.6 480.5,494.6 490.5,492.9 500.5,486.2 510.5,492.9 520.5,494.2 530.5,489.0 540.5,487.2 550.5,500.9 560.5,498.4 570.5,490.1 580.5,484.1 590.5,491.1 600.5,488.3 610.5,479.2 620.5,478.1 630.5,493.9 640.5,487.6 650.5,478.1 660.5,472.2 670.5,480.6 680.5,482.7 690.5,475.7" fill="none" stroke="#ff0000" stroke-width="2.9" stroke-linejoin="round"/>
<path d="M50.5 0V600.5H690.5V0" stroke="#000" stroke-width="1" fill="none" shape-rendering="crispEdges"/>
<text class="d" x="20" y="27">150</text><text class="d" x="710" y="27">150</text>
<text class="d" x="20" y="62">140</text><text class="d" x="710" y="62">140</text>
<text class="d" x="20" y="97">130</text><text class="d" x="710" y="97">130</text>
<text class="d" x="20" y="132">120</text><text class="d" x="710" y="132">120</text>
<text class="d" x="20" y="167">110</text><text class="d" x="710" y="167">110</text>
<text class="d" x="20" y="202">100</text><text class="d" x="710" y="202">100</text>
<text class="d" x="20" y="237">90</text><text class="d" x="710" y="237">90</text>
<text class="d" x="20" y="272">80</text><text class="d" x="710" y="272">80</text>
<text class="d" x="20" y="307">70</text><text class="d" x="710" y="307">70</text>
<text class="d" x="20" y="342">60</text><text class="d" x="710" y="342">60</text>
<text class="d" x="20" y="377">50</text><text class="d" x="710" y="377">50</text>
<text class="d" x="20" y="412">40</text><text class="d" x="710" y="412">40</text>
<text class="d" x="20" y="447">30</text><text class="d" x="710" y="447">30</text>
<text class="d" x="20" y="482">20</text><text class="d" x="710" y="482">20</text>
<text class="d" x="20" y="517">10</text><text class="d" x="710" y="517">10</text>
<text class="d" x="20" y="552">0</text><text class="d" x="710" y="552">0</text>
<text x="20" y="611">(km/h)</text><text x="710" y="611">(km/h)</text>
<text x="60" y="371">Vent moyen <tspan class="d">10</tspan>m</text>
<text transform="translate(81 632) rotate(-90)"><tspan class="d">20</tspan>/<tspan class="d">04</tspan></text>
<text transform="translate(121 632) rotate(-90)"><tspan class="d">21</tspan>/<tspan class="d">04</tspan></text>
<text transform="translate(161 632) rotate(-90)"><tspan class="d">22</tspan>/<tspan class="d">04</tspan></text>
<text transform="translate(201 632) rotate(-90)"><tspan class="d">23</tspan>/<tspan class="d">04</tspan></text>
<text transform="translate(241 632) rotate(-90)"><tspan class="d">24</tspan>/<tspan class="d">04</tspan></text>
<text transform="translate(281 632) rotate(-90)"><tspan class="d">25</tspan>/<tspan class="d">04</tspan></text>
<text transform="translate(321 632) rotate(-90)"><tspan class="d">26</tspan>/<tspan class="d">04</tspan></text>
<text transform="translate(361 632) rotate(-90)"><tspan class="d">27</tspan>/<tspan class="d">04</tspan></text>
<text transform="translate(401 632) rotate(-90)"><tspan class="d">28</tspan>/<tspan class="d">04</tspan></text>
<text transform="translate(441 632) rotate(-90)"><tspan class="d">29</tspan>/<tspan class="d">04</tspan></text>
<text transform="translate(481 632) rotate(-90)"><tspan class="d">30</tspan>/<tspan class="d">04</tspan></text>
<text transform="translate(521 632) rotate(-90)"><tspan class="d">01</tspan>/<tspan class="d">05</tspan></text>
<text transform="translate(561 632) rotate(-90)"><tspan class="d">02</tspan>/<tspan class="d">05</tspan></text>
<text transform="translate(601 632) rotate(-90)"><tspan class="d">03</tspan>/<tspan class="d">05</tspan></text>
<text transform="translate(641 632) rotate(-90)"><tspan class="d">04</tspan>/<tspan class="d">05</tspan></text>
<text transform="translate(681 632) rotate(-90)"><tspan class="d">05</tspan>/<tspan class="d">05</tspan></text>
<g fill="#0000ff"><polygon points="48,566 52,565 71,585 50,588 49,588"/><polygon points="89,566.5 92,561.5 97,559.5 106,560.5 131,563 131,566.5"/><polygon points="129,563 171,564 171,566 129,566.5"/><polygon points="169,564 211,564 211,566 169,566"/><polygon points="209,564 249,564 249,566 235,568 223,569.5 214,568 209,566"/><polygon points="249,565 254,562 259,561 270,563 282,564 290,564 290,566 282,566.5 270,568 260,571 254,569 249,566"/><polygon points="290,550 294,558 299,563 298,570 293,573 288,573 284,568 285,562 288,558"/><polygon points="316,565 330,551 334,560 333,575 331,580"/><polygon points="357,577 363,560 370,556 375,562 375,568 370,574"/><polygon points="409,551 413,562 421,576 410,575 404,570 403,564 405,557"/><polygon points="450,550 455,560 459,567 460,575 452,574 446,570 447,562"/><polygon points="480,555 490,556 497,559 500,565 499,570 490,568 487,564"/><polygon points="519,554 530,552 534,560 545,565 532,567 531,572 528,566"/><polygon points="558,566 565,560 571,553 577,561 585,565 577,568 569,569 562,568"/><polygon points="610,546 615,558 617,566 618,572 612,569 607,567 604,558"/><polygon points="650,550 654,558 657,566 658,572 650,571 643,567 644,560"/><polygon points="690,551 693,561 700,565 692,569 684,568 679,566 683,558"/></g>
<path d="M35 565.5H66M50.5 550V581M39 554L62 577M39 577L62 554M75 565.5H106M90.5 550V581M79 554L102 577M79 577L102 554M115 565.5H146M130.5 550V581M119 554L142 577M119 577L142 554M155 565.5H186M170.5 550V581M159 554L182 577M159 577L182 554M195 565.5H226M210.5 550V581M199 554L222 577M199 577L222 554M235 565.5H266M250.5 550V581M239 554L262 577M239 577L262 554M275 565.5H306M290.5 550V581M279 554L302 577M279 577L302 554M315 565.5H346M330.5 550V581M319 554L342 577M319 577L342 554M355 565.5H386M370.5 550V581M359 554L382 577M359 577L382 554M395 565.5H426M410.5 550V581M399 554L422 577M399 577L422 554M435 565.5H466M450.5 550V581M439 554L462 577M439 577L462 554M475 565.5H506M490.5 550V581M479 554L502 577M479 577L502 554M515 565.5H546M530.5 550V581M519 554L542 577M519 577L542 554M555 565.5H586M570.5 550V581M559 554L582 577M559 577L582 554M595 565.5H626M610.5 550V581M599 554L622 577M599 577L622 554M635 565.5H666M650.5 550V581M639 554L662 577M639 577L662 554M675 565.5H706M690.5 550V581M679 554L702 577M679 577L702 554" stroke="#000" stroke-width="1" fill="none"/>
<g fill="#000"><circle cx="50.5" cy="565.5" r="2"/><circle cx="90.5" cy="565.5" r="2"/><circle cx="130.5" cy="565.5" r="2"/><circle cx="170.5" cy="565.5" r="2"/><circle cx="210.5" cy="565.5" r="2"/><circle cx="250.5" cy="565.5" r="2"/><circle cx="290.5" cy="565.5" r="2"/><circle cx="330.5" cy="565.5" r="2"/><circle cx="370.5" cy="565.5" r="2"/><circle cx="410.5" cy="565.5" r="2"/><circle cx="450.5" cy="565.5" r="2"/><circle cx="490.5" cy="565.5" r="2"/><circle cx="530.5" cy="565.5" r="2"/><circle cx="570.5" cy="565.5" r="2"/><circle cx="610.5" cy="565.5" r="2"/><circle cx="650.5" cy="565.5" r="2"/><circle cx="690.5" cy="565.5" r="2"/></g>
<text class="c" x="88" y="549">N</text><text class="c" x="88" y="589">S</text><text class="c" x="73" y="569">W</text><text class="c" x="106" y="569">E</text>
<rect x="35" y="630" width="31" height="4" fill="#ff0000"/>
<text x="75" y="640">Moyenne des scénarios</text>
<rect x="225" y="635" width="31" height="4" fill="#0000ff"/><rect x="225" y="645" width="31" height="4" fill="#000"/>
<text x="264" y="641">Run de contrôle</text><text x="264" y="651">Run GFS</text>
<text x="179" y="664">Altitude du modele : <tspan class="d">60</tspan>m</text>
<text x="340" y="656"><tspan class="d">30</tspan> Perts.</text>
<rect x="400" y="650" width="10" height="6" fill="#E07830"/><text class="t" x="400.5" y="647">01</text>
<rect x="411" y="650" width="10" height="6" fill="#80C060"/><text class="t" x="411.5" y="647">02</text>
<rect x="422" y="650" width="10" height="6" fill="#F0C010"/><text class="t" x="422.5" y="647">03</text>
<rect x="433" y="650" width="10" height="6" fill="#9048B0"/><text class="t" x="433.5" y="647">04</text>
<rect x="444" y="650" width="10" height="6" fill="#B05010"/><text class="t" x="444.5" y="647">05</text>
<rect x="455" y="650" width="10" height="6" fill="#508010"/><text class="t" x="455.5" y="647">06</text>
<rect x="466" y="650" width="10" height="6" fill="#1080F0"/><text class="t" x="466.5" y="647">07</text>
<rect x="477" y="650" width="10" height="6" fill="#E8D8B0"/><text class="t" x="477.5" y="647">08</text>
<rect x="488" y="650" width="10" height="6" fill="#3888B8"/><text class="t" x="488.5" y="647">09</text>
<rect x="499" y="650" width="10" height="6" fill="#E8A850"/><text class="t" x="499.5" y="647">10</text>
<rect x="510" y="650" width="10" height="6" fill="#605020"/><text class="t" x="510.5" y="647">11</text>
<rect x="521" y="650" width="10" height="6" fill="#F06020"/><text class="t" x="521.5" y="647">12</text>
<rect x="532" y="650" width="10" height="6" fill="#D0C070"/><text class="t" x="532.5" y="647">13</text>
<rect x="543" y="650" width="10" height="6" fill="#10D050"/><text class="t" x="543.5" y="647">14</text>
<rect x="554" y="650" width="10" height="6" fill="#204060"/><text class="t" x="554.5" y="647">15</text>
<rect x="565" y="650" width="10" height="6" fill="#687078"/><text class="t" x="565.5" y="647">16</text>
<rect x="576" y="650" width="10" height="6" fill="#E070F0"/><text class="t" x="576.5" y="647">17</text>
<rect x="587" y="650" width="10" height="6" fill="#8020F0"/><text class="t" x="587.5" y="647">18</text>
<rect x="598" y="650" width="10" height="6" fill="#806030"/><text class="t" x="598.5" y="647">19</text>
<rect x="609" y="650" width="10" height="6" fill="#300870"/><text class="t" x="609.5" y="647">20</text>
<rect x="620" y="650" width="10" height="6" fill="#F0D010"/><text class="t" x="620.5" y="647">21</text>
<rect x="631" y="650" width="10" height="6" fill="#2060A0"/><text class="t" x="631.5" y="647">22</text>
<rect x="642" y="650" width="10" height="6" fill="#A06020"/><text class="t" x="642.5" y="647">23</text>
<rect x="653" y="650" width="10" height="6" fill="#9888E8"/><text class="t" x="653.5" y="647">24</text>
<rect x="664" y="650" width="10" height="6" fill="#A0F040"/><text class="t" x="664.5" y="647">25</text>
<rect x="675" y="650" width="10" height="6" fill="#D070D0"/><text class="t" x="675.5" y="647">26</text>
<rect x="686" y="650" width="10" height="6" fill="#2000A0"/><text class="t" x="686.5" y="647">27</text>
<rect x="697" y="650" width="10" height="6" fill="#E0D0B0"/><text class="t" x="697.5" y="647">28</text>
<rect x="708" y="650" width="10" height="6" fill="#880808"/><text class="t" x="708.5" y="647">29</text>
<rect x="719" y="650" width="10" height="6" fill="#0830C0"/><text class="t" x="719.5" y="647">30</text>
<rect x="20.5" y="667.5" width="420" height="32" fill="none" stroke="#000" shape-rendering="crispEdges"/>
<text class="b" x="30" y="681">Diagramme des ensembles GEFS sur <tspan class="bd">384</tspan>h : <tspan class="bd">53</tspan>.<tspan class="bd">7</tspan>N <tspan class="bd">10</tspan>W</text>
<text x="30" y="696">Vitesse (km/h) et direction (°) du vent moyen <tspan class="d">10</tspan>m</text>
<text x="450" y="677">Ensemble GEFS du <tspan class="d">19</tspan>/<tspan class="d">04</tspan>/<tspan class="d">2026</tspan> - <tspan class="d">12</tspan>Z</text>
<text class="b" x="450" y="696">Copyright <tspan class="bd">2026</tspan> Meteociel.fr</text>
</svg></body></html>
